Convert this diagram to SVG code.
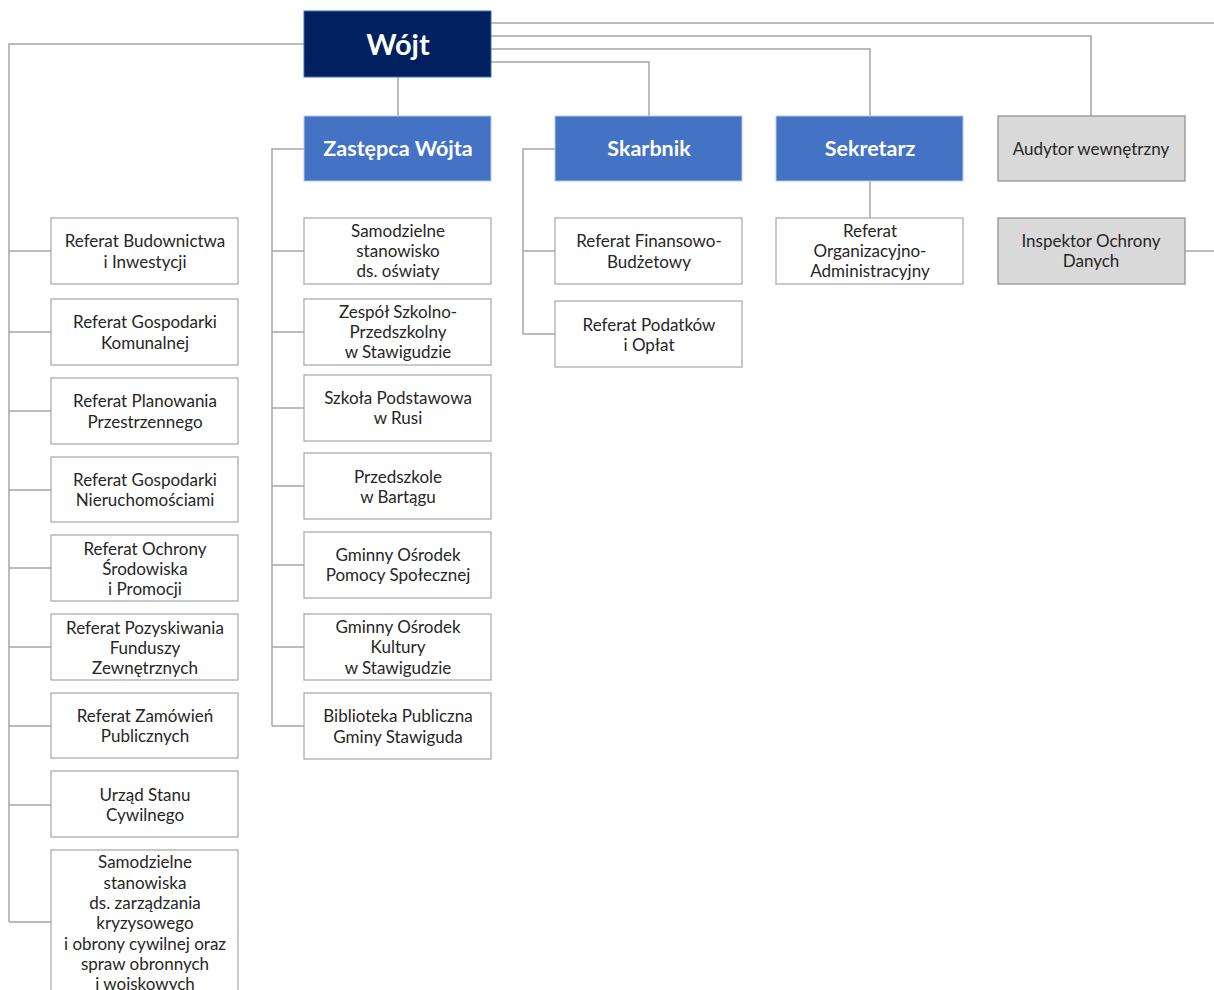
<svg xmlns="http://www.w3.org/2000/svg" width="1214" height="990" viewBox="0 0 1214 990">
<style>
.c{fill:none;stroke:#A6A6A6;stroke-width:1.5}
.b{fill:#FFFFFF;stroke:#A6A6A6;stroke-width:1.2}
.g{fill:#D9D9D9;stroke:#8C8C8C;stroke-width:1.2}
.m{fill:#4472C4;stroke:#B4C7E7;stroke-width:1}
.t{font-family:Lato,"Liberation Sans",sans-serif;font-size:17px;fill:#262626;text-anchor:middle}
.h{font-family:Lato,"Liberation Sans",sans-serif;font-size:21.5px;font-weight:bold;fill:#FFFFFF;text-anchor:middle}
</style>
<rect width="1214" height="990" fill="#FFFFFF"/>
<g id="connectors">
<path class="c" d="M304 44H9V922"/>
<path class="c" d="M9 251H51M9 332H51M9 411H51M9 490H51M9 568H51M9 647H51M9 726H51M9 805H51M9 922H51"/>
<path class="c" d="M398 77V116"/>
<path class="c" d="M491 62H649V116"/>
<path class="c" d="M491 49H870V116"/>
<path class="c" d="M491 36H1091V116"/>
<path class="c" d="M491 23H1214"/>
<path class="c" d="M304 149H272V726"/>
<path class="c" d="M272 251H304M272 332H304M272 408H304M272 486H304M272 565H304M272 647H304M272 726H304"/>
<path class="c" d="M555 149H523V334H555M523 251H555"/>
<path class="c" d="M870 181V218"/>
<path class="c" d="M1185 251H1214"/>
</g>
<g id="wojt"><rect x="304" y="11" width="187" height="66" fill="#002060" stroke="#2E75B6" stroke-width="1"/><text x="398" y="55" class="h" style="font-size:29px">Wójt</text></g>
<g id="zastepca"><rect class="m" x="304" y="116" width="187" height="65"/><text x="398" y="156" class="h">Zastępca Wójta</text></g>
<g id="skarbnik"><rect class="m" x="555" y="116" width="187" height="65"/><text x="649" y="156" class="h">Skarbnik</text></g>
<g id="sekretarz"><rect class="m" x="776" y="116" width="187" height="65"/><text x="870" y="156" class="h">Sekretarz</text></g>
<g id="audytor"><rect class="g" x="998" y="116" width="187" height="65"/><text x="1091" y="155" class="t">Audytor wewnętrzny</text></g>
<g id="inspektor"><rect class="g" x="998" y="218" width="187" height="66"/><text x="1091" y="247" class="t">Inspektor Ochrony</text><text x="1091" y="267" class="t">Danych</text></g>

<g id="l1"><rect class="b" x="51" y="218" width="187" height="66"/><text x="145" y="247" class="t">Referat Budownictwa</text><text x="145" y="268" class="t">i Inwestycji</text></g>
<g id="l2"><rect class="b" x="51" y="299" width="187" height="66"/><text x="145" y="328" class="t">Referat Gospodarki</text><text x="145" y="349" class="t">Komunalnej</text></g>
<g id="l3"><rect class="b" x="51" y="378" width="187" height="66"/><text x="145" y="407" class="t">Referat Planowania</text><text x="145" y="428" class="t">Przestrzennego</text></g>
<g id="l4"><rect class="b" x="51" y="457" width="187" height="65"/><text x="145" y="486" class="t">Referat Gospodarki</text><text x="145" y="506" class="t">Nieruchomościami</text></g>
<g id="l5"><rect class="b" x="51" y="535" width="187" height="66"/><text x="145" y="555" class="t">Referat Ochrony</text><text x="145" y="575" class="t">Środowiska</text><text x="145" y="595" class="t">i Promocji</text></g>
<g id="l6"><rect class="b" x="51" y="614" width="187" height="66"/><text x="145" y="634" class="t">Referat Pozyskiwania</text><text x="145" y="654" class="t">Funduszy</text><text x="145" y="674" class="t">Zewnętrznych</text></g>
<g id="l7"><rect class="b" x="51" y="693" width="187" height="65"/><text x="145" y="722" class="t">Referat Zamówień</text><text x="145" y="742" class="t">Publicznych</text></g>
<g id="l8"><rect class="b" x="51" y="771" width="187" height="66"/><text x="145" y="801" class="t">Urząd Stanu</text><text x="145" y="821" class="t">Cywilnego</text></g>
<g id="l9"><rect class="b" x="51" y="850" width="187" height="160"/><text x="145" y="868" class="t">Samodzielne</text><text x="145" y="889" class="t">stanowiska</text><text x="145" y="909" class="t">ds. zarządzania</text><text x="145" y="929" class="t">kryzysowego</text><text x="145" y="950" class="t">i obrony cywilnej oraz</text><text x="145" y="970" class="t">spraw obronnych</text><text x="145" y="990" class="t">i wojskowych</text></g>

<g id="m1"><rect class="b" x="304" y="218" width="187" height="66"/><text x="398" y="237" class="t">Samodzielne</text><text x="398" y="257" class="t">stanowisko</text><text x="398" y="277" class="t">ds. oświaty</text></g>
<g id="m2"><rect class="b" x="304" y="299" width="187" height="66"/><text x="398" y="318" class="t">Zespół Szkolno-</text><text x="398" y="338" class="t">Przedszkolny</text><text x="398" y="358" class="t">w Stawigudzie</text></g>
<g id="m3"><rect class="b" x="304" y="375" width="187" height="66"/><text x="398" y="404" class="t">Szkoła Podstawowa</text><text x="398" y="424" class="t">w Rusi</text></g>
<g id="m4"><rect class="b" x="304" y="453" width="187" height="66"/><text x="398" y="483" class="t">Przedszkole</text><text x="398" y="503" class="t">w Bartągu</text></g>
<g id="m5"><rect class="b" x="304" y="532" width="187" height="66"/><text x="398" y="561" class="t">Gminny Ośrodek</text><text x="398" y="581" class="t">Pomocy Społecznej</text></g>
<g id="m6"><rect class="b" x="304" y="614" width="187" height="66"/><text x="398" y="633" class="t">Gminny Ośrodek</text><text x="398" y="653" class="t">Kultury</text><text x="398" y="674" class="t">w Stawigudzie</text></g>
<g id="m7"><rect class="b" x="304" y="693" width="187" height="66"/><text x="398" y="722" class="t">Biblioteka Publiczna</text><text x="398" y="743" class="t">Gminy Stawiguda</text></g>

<g id="s1"><rect class="b" x="555" y="218" width="187" height="66"/><text x="649" y="247" class="t">Referat Finansowo-</text><text x="649" y="268" class="t">Budżetowy</text></g>
<g id="s2"><rect class="b" x="555" y="301" width="187" height="66"/><text x="649" y="331" class="t">Referat Podatków</text><text x="649" y="351" class="t">i Opłat</text></g>
<g id="k1"><rect class="b" x="776" y="218" width="187" height="66"/><text x="870" y="237" class="t">Referat</text><text x="870" y="257" class="t">Organizacyjno-</text><text x="870" y="277" class="t">Administracyjny</text></g>
</svg>
